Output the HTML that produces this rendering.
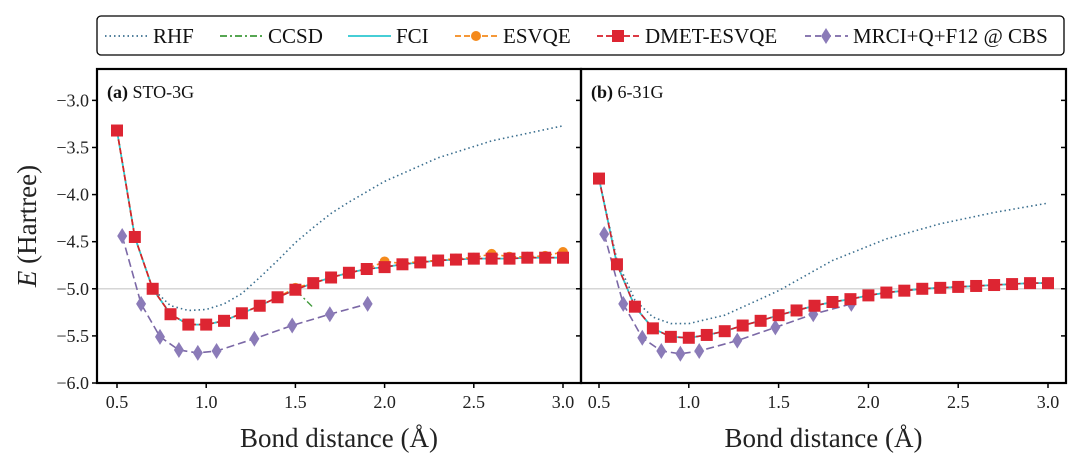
<!DOCTYPE html>
<html><head><meta charset="utf-8"><style>
body{margin:0;background:#fff;}
svg{display:block;font-family:"Liberation Serif",serif;}
</style></head><body>
<svg id="chart" width="1080" height="467"></svg>
<script>
const xsGrid=[0.5,0.6,0.7,0.8,0.9,1.0,1.1,1.2,1.3,1.4,1.5,1.6,1.7,1.8,1.9,2.0,2.1,2.2,2.3,2.4,2.5,2.6,2.7,2.8,2.9,3.0];
const aDmet=[-3.32,-4.45,-5.0,-5.27,-5.38,-5.38,-5.34,-5.26,-5.18,-5.09,-5.01,-4.94,-4.88,-4.83,-4.79,-4.77,-4.74,-4.72,-4.70,-4.69,-4.68,-4.68,-4.68,-4.67,-4.67,-4.67];
const aEsvqe=[-3.32,-4.45,-5.0,-5.27,-5.38,-5.38,-5.34,-5.26,-5.18,-5.09,-4.99,-4.94,-4.88,-4.83,-4.79,-4.71,-4.73,-4.71,-4.70,-4.68,-4.67,-4.63,-4.66,-4.66,-4.65,-4.61];
const aFci=aDmet;
const ccsdX=[0.5,0.6,0.7,0.8,0.9,1.0,1.1,1.2,1.3,1.4,1.5,1.6];
const aCcsd=[-3.32,-4.45,-5.0,-5.27,-5.38,-5.38,-5.34,-5.26,-5.18,-5.09,-5.01,-5.2];
const rhfX=[0.5,0.6,0.7,0.8,0.9,1.0,1.1,1.2,1.3,1.4,1.5,1.6,1.7,1.8,2.0,2.3,2.6,3.0];
const aRhf=[-3.32,-4.45,-5.0,-5.18,-5.23,-5.22,-5.16,-5.05,-4.88,-4.7,-4.51,-4.35,-4.2,-4.08,-3.86,-3.61,-3.43,-3.27];
const bDmet=[-3.83,-4.74,-5.19,-5.42,-5.51,-5.52,-5.49,-5.45,-5.39,-5.34,-5.28,-5.23,-5.18,-5.14,-5.11,-5.07,-5.04,-5.02,-5.0,-4.99,-4.98,-4.97,-4.96,-4.95,-4.94,-4.94];
const bRhfX=[0.5,0.6,0.7,0.8,0.9,1.0,1.2,1.5,1.8,2.1,2.4,2.7,3.0];
const bRhf=[-3.83,-4.7,-5.12,-5.3,-5.37,-5.37,-5.28,-5.02,-4.7,-4.47,-4.31,-4.19,-4.09];
const mrciX=[0.529,0.635,0.741,0.847,0.953,1.058,1.270,1.482,1.693,1.905];
const mrciA=[-4.44,-5.16,-5.51,-5.65,-5.68,-5.66,-5.53,-5.39,-5.27,-5.16];
const mrciB=[-4.42,-5.16,-5.52,-5.66,-5.69,-5.66,-5.55,-5.41,-5.27,-5.16];
const xTicks=[0.5,1.0,1.5,2.0,2.5,3.0];
const yTicks=[-3.0,-3.5,-4.0,-4.5,-5.0,-5.5,-6.0];
const legendLabels=["RHF","CCSD","FCI","ESVQE","DMET-ESVQE","MRCI+Q+F12 @ CBS"];

const NS="http://www.w3.org/2000/svg";
const svg=document.getElementById('chart');
function mk(tag,attrs,parent){const e=document.createElementNS(NS,tag);for(const k in attrs)e.setAttribute(k,attrs[k]);(parent||svg).appendChild(e);return e;}
const yTop=69,yBot=383;
function Y(v){return yBot-(v+6.0)/(3.333)*(yBot-yTop);}
const panels=[{l:97,r:581,x0:117,x1:563,lab:"(a)",basis:" STO-3G"},{l:581,r:1066,x0:599,x1:1048,lab:"(b)",basis:" 6-31G"}];
function xf(p){return v=>p.x0+(v-0.5)/2.5*(p.x1-p.x0);}
function line(g,xs,ys,X,attrs,name){
  const d=xs.map((x,i)=>(i?'L':'M')+X(x).toFixed(1)+','+Y(ys[i]).toFixed(1)).join('');
  const p=mk('path',Object.assign({d:d,fill:'none'},attrs),g);
  
  
}
function markers(g,xs,ys,X,type,color,name){
  xs.forEach((x,i)=>{
    const cx=X(x),cy=Y(ys[i]);let m;
    if(type==='sq')m=mk('rect',{x:cx-6,y:cy-6,width:12,height:12,fill:color},g);
    else if(type==='dot')m=mk('circle',{cx:cx,cy:cy,r:5,fill:color},g);
    else m=mk('polygon',{points:`${cx},${cy-8} ${cx+5},${cy} ${cx},${cy+8} ${cx-5},${cy}`,fill:color},g);
    
    
  });
}
// horizontal reference line
const hl=mk('line',{x1:97,x2:1066,y1:Y(-5),y2:Y(-5),stroke:'#c8c8c8','stroke-width':1.2});



panels.forEach((p,pi)=>{
  const X=xf(p);
  const g=mk('g',{});
  
  
  const dm=pi?bDmet:aDmet;
  if(pi===0){
    line(g,rhfX,aRhf,X,{stroke:'#3a6e8e','stroke-width':1.6,'stroke-dasharray':'1.5,3'},'rhf-line');
    line(g,ccsdX,aCcsd,X,{stroke:'#3f9a3a','stroke-width':1.4,'stroke-dasharray':'7,3,2,3'},'ccsd-line');
    line(g,xsGrid,aFci,X,{stroke:'#2cc7d0','stroke-width':1.8},'fci-line');
    line(g,xsGrid,aEsvqe,X,{stroke:'#f48a1c','stroke-width':1.6,'stroke-dasharray':'6,3'},'esvqe-line');
    markers(g,xsGrid,aEsvqe,X,'dot','#f48a1c','esvqe-point');
  } else {
    line(g,bRhfX,bRhf,X,{stroke:'#3a6e8e','stroke-width':1.6,'stroke-dasharray':'1.5,3'},'rhf-line');
    line(g,xsGrid,dm,X,{stroke:'#3f9a3a','stroke-width':1.4,'stroke-dasharray':'7,3,2,3'},'ccsd-line');
    line(g,xsGrid,dm,X,{stroke:'#2cc7d0','stroke-width':1.8},'fci-line');
  }
  const mr=pi?mrciB:mrciA;
  line(g,mrciX,mr,X,{stroke:'#7b68a6','stroke-width':1.6,'stroke-dasharray':'8,4'},'mrci-line');
  markers(g,mrciX,mr,X,'dia','#8b7bb8','mrci-point');
  line(g,xsGrid,dm,X,{stroke:'#d81f2a','stroke-width':1.6,'stroke-dasharray':'6,3'},'dmet-line');
  markers(g,xsGrid,dm,X,'sq','#dd2532','dmet-point');
  // frame
  const fr=mk('rect',{x:p.l,y:yTop,width:p.r-p.l,height:yBot-yTop,fill:'none',stroke:'#000','stroke-width':2.2},g);
  
  
  xTicks.forEach(t=>{
    mk('line',{x1:X(t),x2:X(t),y1:yBot,y2:yBot+5,stroke:'#000','stroke-width':1.5},g);
    const tx=mk('text',{x:X(t),y:yBot+25,'text-anchor':'middle','font-size':18,fill:'#222'},g);
    tx.textContent=t.toFixed(1);
    
    
  });
  yTicks.forEach(t=>{
    mk('line',{x1:p.l-5,x2:p.l,y1:Y(t),y2:Y(t),stroke:'#000','stroke-width':1.5},g);
    if(pi===1) mk('line',{x1:p.r-5,x2:p.r,y1:Y(t),y2:Y(t),stroke:'#000','stroke-width':1.5},g);
    if(pi===0){
      const ty=mk('text',{x:p.l-8,y:Y(t)+6,'text-anchor':'end','font-size':18,fill:'#222'},g);
      ty.textContent='\u2212'+Math.abs(t).toFixed(1);
      
      
    }
  });
  const pl=mk('text',{x:p.l+10,y:98,'font-size':18,fill:'#111'},g);
  pl.innerHTML='<tspan font-weight="bold">'+p.lab+'</tspan>'+p.basis;
  
  
  const xt=mk('text',{x:(p.l+p.r)/2,y:447,'text-anchor':'middle','font-size':27,fill:'#222'},g);
  xt.textContent='Bond distance (Å)';
  
  
});
const yt=mk('text',{x:0,y:0,'text-anchor':'middle','font-size':27,fill:'#222',transform:'translate(36,226) rotate(-90)'});
yt.innerHTML='<tspan font-style="italic">E</tspan> (Hartree)';



// legend
const lg=mk('g',{});


mk('rect',{x:97,y:16,width:967,height:39,rx:4,fill:'#fff',stroke:'#000','stroke-width':1.3},lg);
const lx=[105,220,348,455,597,805];
const styles=[
 {stroke:'#3a6e8e','stroke-dasharray':'1.5,3'},
 {stroke:'#3f9a3a','stroke-dasharray':'7,3,2,3'},
 {stroke:'#2cc7d0'},
 {stroke:'#f48a1c','stroke-dasharray':'6,3'},
 {stroke:'#d81f2a','stroke-dasharray':'6,3'},
 {stroke:'#7b68a6','stroke-dasharray':'6,4'}];
legendLabels.forEach((lab,i)=>{
  const e=mk('g',{},lg);
  
  
  mk('line',Object.assign({x1:lx[i],x2:lx[i]+43,y1:36,y2:36,'stroke-width':1.8},styles[i]),e);
  const cx=lx[i]+21;
  if(i===3)mk('circle',{cx:cx,cy:36,r:5,fill:'#f48a1c'},e);
  if(i===4)mk('rect',{x:cx-6,y:30,width:12,height:12,fill:'#dd2532'},e);
  if(i===5)mk('polygon',{points:`${cx},28 ${cx+5},36 ${cx},44 ${cx-5},36`,fill:'#8b7bb8'},e);
  const t=mk('text',{x:lx[i]+48,y:43,'font-size':21,fill:'#111'},e);
  t.textContent=lab;
});
</script>
</body></html>
